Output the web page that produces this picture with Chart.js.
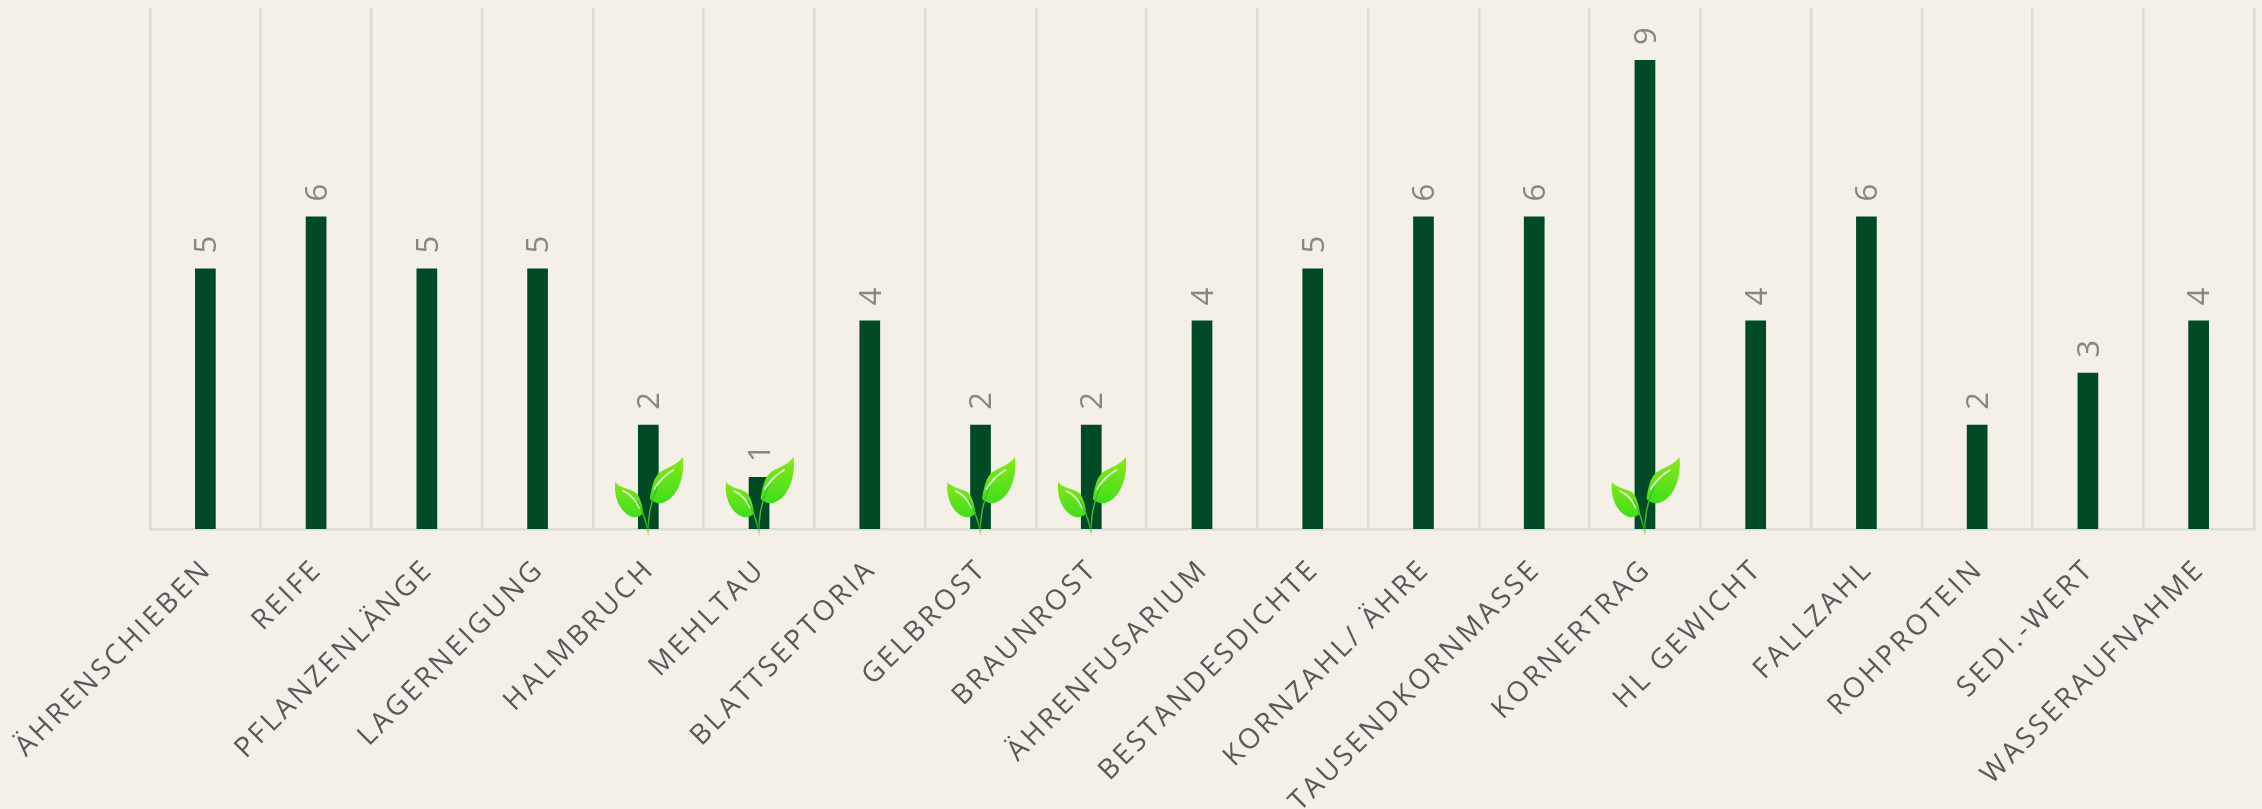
<!DOCTYPE html>
<html lang="de">
<head>
  <meta charset="UTF-8">
  <title>Sorteneigenschaften</title>
  <script src="https://cdn.jsdelivr.net/npm/chart.js"></script>
  <style>
    html, body { margin: 0; padding: 0; background: #f4f0e8; overflow: hidden; }
    #wrap { width: 2262px; height: 809px; }
  </style>
</head>
<body>
  <div id="wrap"><canvas id="chart"></canvas></div>
  <script>
    const categories = ['ÄHRENSCHIEBEN', 'REIFE', 'PFLANZENLÄNGE', 'LAGERNEIGUNG', 'HALMBRUCH', 'MEHLTAU', 'BLATTSEPTORIA', 'GELBROST', 'BRAUNROST', 'ÄHRENFUSARIUM', 'BESTANDESDICHTE', 'KORNZAHL/ ÄHRE', 'TAUSENDKORNMASSE', 'KORNERTRAG', 'HL GEWICHT', 'FALLZAHL', 'ROHPROTEIN', 'SEDI.-WERT', 'WASSERAUFNAHME'];
    const values = [5, 6, 5, 5, 2, 1, 4, 2, 2, 4, 5, 6, 6, 9, 4, 6, 2, 3, 4];
    // Merkmale mit Blatt-Symbol
    const highlighted = ['HALMBRUCH', 'MEHLTAU', 'GELBROST', 'BRAUNROST', 'KORNERTRAG'];

    // Werte über den Balken, um 90 Grad gedreht
    const valueLabels = {
      id: 'valueLabels',
      afterDatasetsDraw(chart) {
        const ctx = chart.ctx;
        const meta = chart.getDatasetMeta(0);
        ctx.save();
        ctx.font = '31px "Open Sans"';
        ctx.fillStyle = '#868683';
        ctx.textAlign = 'left';
        ctx.textBaseline = 'middle';
        meta.data.forEach((bar, i) => {
          ctx.save();
          ctx.translate(bar.x + 2, bar.y - 15);
          ctx.rotate(-Math.PI / 2);
          ctx.fillText(values[i], 0, 0);
          ctx.restore();
        });
        ctx.restore();
      }
    };

    // Blatt-Symbol, Ursprung ist der Fuß des Stängels
    function drawSprout(ctx, x, y) {
      ctx.save();
      ctx.translate(x, y);

      let grad = ctx.createLinearGradient(0, -78, 0, -32);
      grad.addColorStop(0, '#8ae81a');
      grad.addColorStop(1, '#40de1c');
      ctx.fillStyle = grad;
      ctx.beginPath();
      ctx.moveTo(34.5, -78);
      ctx.bezierCurveTo(29, -70, 18, -67, 12, -63);
      ctx.bezierCurveTo(5, -58, 3, -46, 1.5, -36);
      ctx.bezierCurveTo(5, -33, 9, -31, 14, -32);
      ctx.bezierCurveTo(28, -36, 37, -56, 34.5, -78);
      ctx.closePath();
      ctx.fill();

      grad = ctx.createLinearGradient(0, -53, 0, -18);
      grad.addColorStop(0, '#86e61a');
      grad.addColorStop(1, '#40de1c');
      ctx.fillStyle = grad;
      ctx.beginPath();
      ctx.moveTo(-33, -53);
      ctx.bezierCurveTo(-29, -47, -19, -47, -12, -42);
      ctx.bezierCurveTo(-7, -36, -6, -28, -5, -22);
      ctx.bezierCurveTo(-8, -18, -12, -17, -16, -18);
      ctx.bezierCurveTo(-28, -22, -35, -38, -33, -53);
      ctx.closePath();
      ctx.fill();

      // Glanzlichter
      ctx.strokeStyle = 'rgba(255,255,255,0.85)';
      ctx.lineCap = 'round';
      ctx.lineWidth = 1.6;
      ctx.beginPath();
      ctx.moveTo(25, -65);
      ctx.quadraticCurveTo(13, -58, 6, -46);
      ctx.moveTo(-25, -44);
      ctx.quadraticCurveTo(-15, -40, -9, -27);
      ctx.stroke();

      // Stängel
      let stem = ctx.createLinearGradient(0, 0, 0, -14);
      stem.addColorStop(0, 'rgba(63,191,42,0.2)');
      stem.addColorStop(1, '#3fbf2a');
      ctx.strokeStyle = stem;
      ctx.lineWidth = 1.4;
      ctx.beginPath();
      ctx.moveTo(0, 0);
      ctx.bezierCurveTo(-1, -18, 2, -32, 9, -48);
      ctx.moveTo(0, 0);
      ctx.bezierCurveTo(-1, -10, -6, -24, -11, -34);
      ctx.stroke();
      ctx.restore();
    }

    const sprouts = {
      id: 'sprouts',
      afterDatasetsDraw(chart) {
        const base = chart.scales.y.getPixelForValue(0);
        highlighted.forEach(name => {
          drawSprout(chart.ctx, chart.scales.x.getPixelForValue(categories.indexOf(name)), base + 6);
        });
      }
    };

    // Laufweite der Achsenbeschriftung
    const tracking = {
      id: 'tracking',
      beforeDraw(chart) { chart.ctx.letterSpacing = '3.1px'; },
      beforeDatasetsDraw(chart) { chart.ctx.letterSpacing = '0px'; }
    };

    new Chart(document.getElementById('chart'), {
      type: 'bar',
      data: {
        labels: categories,
        datasets: [{
          data: values,
          backgroundColor: '#004b25',
          barPercentage: 0.187,
          categoryPercentage: 1
        }]
      },
      options: {
        responsive: true,
        maintainAspectRatio: false,
        animation: false,
        layout: { padding: { left: 150, right: 8, top: 8, bottom: 0 } },
        plugins: { legend: { display: false }, tooltip: { enabled: false } },
        scales: {
          x: {
            afterFit(scale) { scale.height = 280; scale.paddingLeft = 0; scale.paddingRight = 0; },
            grid: { color: '#dcdbd7', lineWidth: 2.5, drawTicks: false, offset: true },
            border: { color: '#dcdbd7', width: 2.5 },
            ticks: {
              autoSkip: false,
              minRotation: 45,
              maxRotation: 45,
              padding: 24,
              labelOffset: 2,
              color: '#595959',
              font: { family: '"Open Sans"', size: 28 }
            }
          },
          y: {
            display: false,
            min: 0,
            max: 10
          }
        }
      },
      plugins: [tracking, valueLabels, sprouts]
    });
  </script>
</body>
</html>
